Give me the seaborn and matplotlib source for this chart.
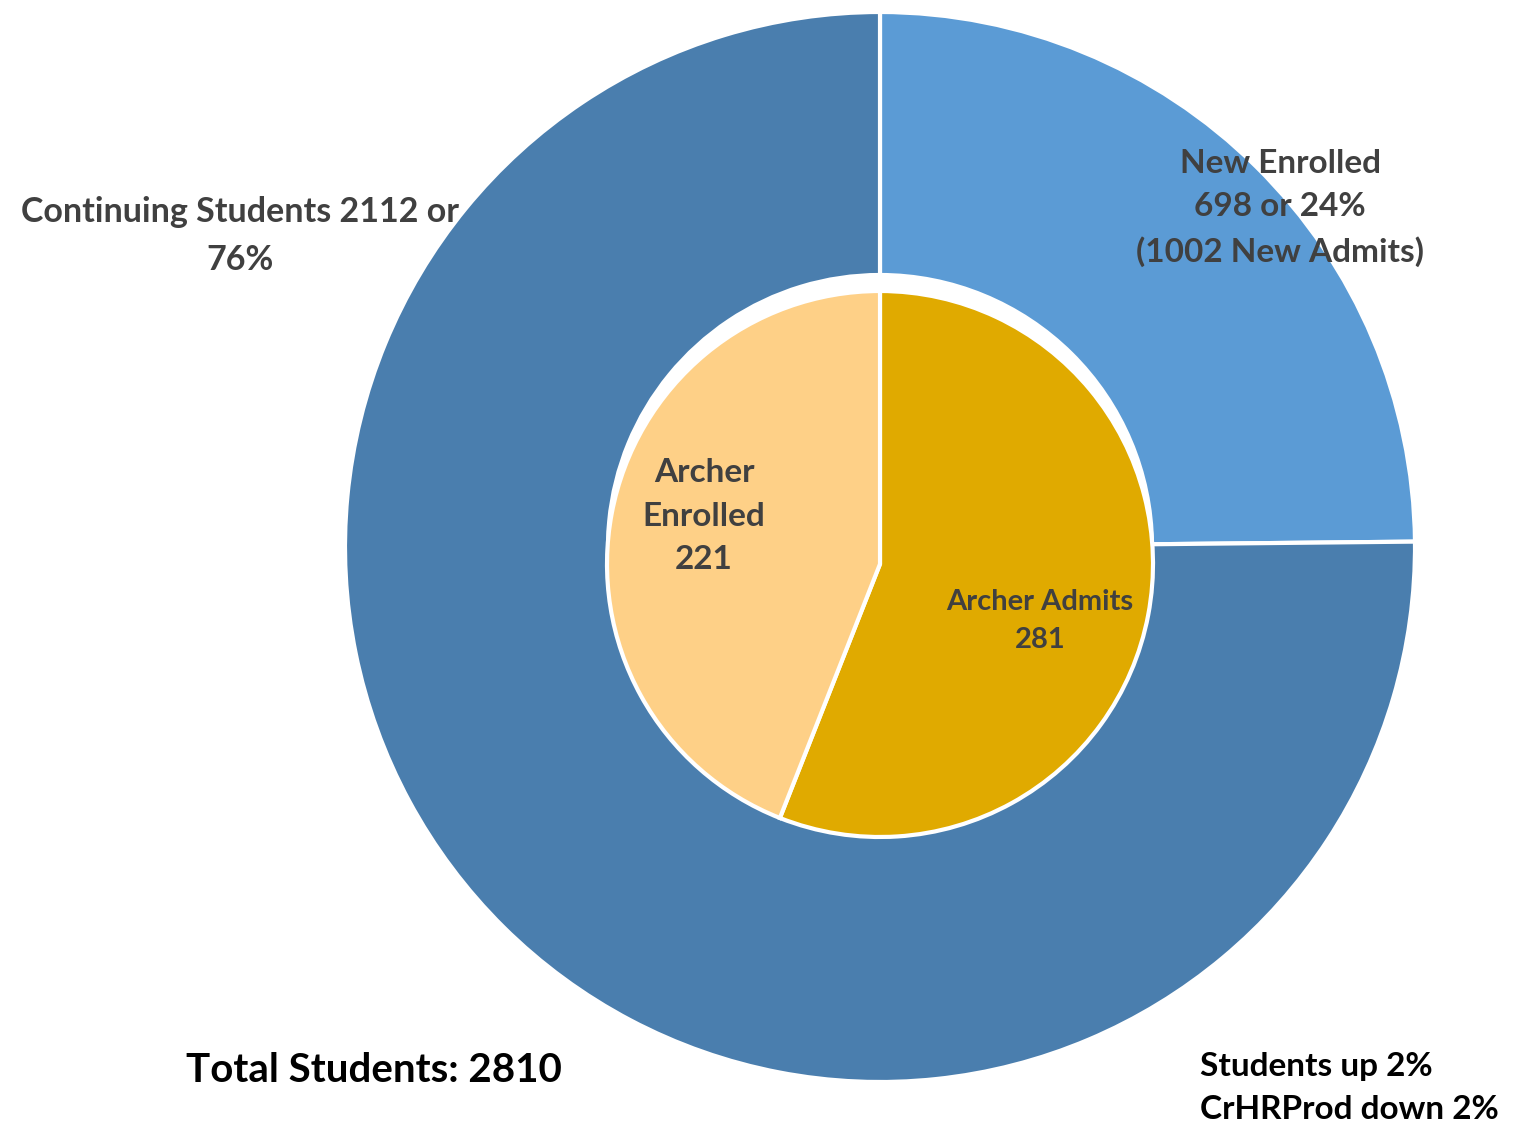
import matplotlib.pyplot as plt
import seaborn as sns

# outer ring: new enrolled vs continuing
outer_labels = ["New Enrolled", "Continuing Students"]
outer_values = [698, 2112]
outer_colors = ["#5B9BD5", "#4A7EAE"]

# inner pie: archer admits vs archer enrolled
inner_labels = ["Archer Admits", "Archer Enrolled"]
inner_values = [281, 221]
inner_colors = ["#E0AA00", "#FED087"]

total_students = 2810

sns.set_theme(style="white")
plt.rcParams["font.family"] = ["Lato", "DejaVu Sans"]

W, H = 1518, 1128
fig = plt.figure(figsize=(W / 100, H / 100), dpi=100)
ax = fig.add_axes([0, 0, 1, 1])
ax.set_xlim(0, W)
ax.set_ylim(0, H)
ax.set_aspect("equal")
ax.axis("off")

# pixel helpers (y measured from the top)
def py(y):
    return H - y

ax.pie(outer_values, colors=outer_colors, startangle=90, counterclock=False,
       radius=535, center=(880, py(547)),
       wedgeprops=dict(width=263, edgecolor="white", linewidth=3))
ax.pie(inner_values, colors=inner_colors, startangle=90, counterclock=False,
       radius=273, center=(880, py(564)),
       wedgeprops=dict(edgecolor="white", linewidth=3))
ax.set_xlim(0, W)
ax.set_ylim(0, H)

grey = "#404040"
kw = dict(ha="center", va="center", fontweight="bold", color=grey, linespacing=1.6)
ax.text(240, py(236), f"Continuing Students {outer_values[1]} or\n76%", fontsize=24.5, **kw)
ax.text(1280, py(208), f"New Enrolled\n{outer_values[0]} or 24%\n(1002 New Admits)", fontsize=24, **kw)
ax.text(704, py(516), f"Archer\nEnrolled\n{inner_values[1]}", fontsize=24, **kw)
ax.text(1040, py(621), f"Archer Admits\n{inner_values[0]}", fontsize=21, **kw)

ax.text(186, py(1070), f"Total Students: {total_students}", ha="left", va="center",
        fontsize=29, fontweight="bold", color="black")
ax.text(1200, py(1088), "Students up 2%\nCrHRProd down 2%", ha="left", va="center",
        fontsize=24, fontweight="bold", color="black", linespacing=1.6)

fig.savefig("out.png", dpi=100, facecolor="white")
